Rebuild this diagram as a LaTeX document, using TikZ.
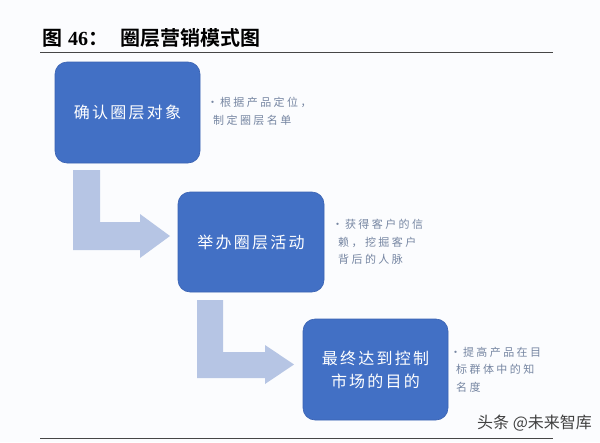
\documentclass[tikz,border=0pt]{standalone}
\usepackage{fontspec}
\setmainfont{Liberation Serif}
\newfontfamily\cjk{Noto Sans CJK SC}
\newfontfamily\cjkb{Noto Sans CJK SC Bold}
\newfontfamily\cjksp[LetterSpace=14]{Noto Sans CJK SC}
\newfontfamily\cjkside[LetterSpace=22]{Noto Sans CJK SC}
\definecolor{boxblue}{RGB}{66,112,197}
\definecolor{boxedge}{RGB}{58,98,178}
\definecolor{arrowblue}{RGB}{182,197,228}
\definecolor{sidetxt}{RGB}{118,134,162}
\definecolor{rulegray}{RGB}{70,70,70}
\definecolor{bgcol}{RGB}{251,252,254}
\tikzset{
  stagebox/.style={rectangle, rounded corners=12pt, fill=boxblue, draw=boxedge, line width=0.6pt,
    text=white, align=center, inner sep=0pt,
    font=\cjksp\fontsize{16}{23}\selectfont},
  sidenote/.style={anchor=north west, align=left, inner sep=0pt, text=sidetxt,
    font=\cjkside\fontsize{11}{17.5}\selectfont},
  blockarrow/.style={fill=arrowblue, draw=none},
  rulel/.style={draw=rulegray, line width=1.6pt}
}
\begin{document}
\begin{tikzpicture}[x=1pt,y=-1pt]
\fill[bgcol] (0,0) rectangle (600,442);
\useasboundingbox (0,0) rectangle (600,442);
% title
\node[anchor=base west, inner sep=0pt, font=\fontsize{20}{24}\selectfont] (title) at (42,45)
  {{\cjkb 图}\hspace{6pt}{\rmfamily\bfseries 46}{\cjkb ：}\hspace{12pt}{\cjkb 圈层营销模式图}};
\draw[rulel] (40,52.5) coordinate (rt1) -- (553,52.5) coordinate (rt2);
\draw[rulel] (40,438.5) coordinate (rb1) -- (553,438.5) coordinate (rb2);
% block arrows
\fill[blockarrow] (73,170) -- (100,170) -- (100,222) -- (140,222) -- (140,214) -- (170,236)
  -- (140,258) -- (140,250) -- (73,250) -- cycle;
\fill[blockarrow] (197,300) -- (223,300) -- (223,352) -- (265,352) -- (265,345) -- (294,364.5)
  -- (265,384) -- (265,378) -- (197,378) -- cycle;
% boxes
\node[stagebox, minimum width=145pt, minimum height=101pt] (b1) at (127.5,112.5) {确认圈层对象};
\node[stagebox, minimum width=146pt, minimum height=100pt] (b2) at (251,242) {举办圈层活动};
\node[stagebox, minimum width=145pt, minimum height=101pt] (b3) at (375.5,369.5) {最终达到控制\\市场的目的};
% side notes
\node[sidenote] (n1) at (207,97) {•\,根据产品定位，\\\hspace*{6pt}制定圈层名单};
\node[sidenote] (n2) at (332,219) {•\,获得客户的信\\\hspace*{6pt}赖，挖掘客户\\\hspace*{6pt}背后的人脉};
\node[sidenote] (n3) at (450,347) {•\,提高产品在目\\\hspace*{6pt}标群体中的知\\\hspace*{6pt}名度};
% watermark
\node[anchor=base west, inner sep=0pt, text=black!75, font=\cjk\fontsize{16}{20}\selectfont] (wm) at (477,428) {头条 @未来智库};
\end{tikzpicture}
\end{document}
